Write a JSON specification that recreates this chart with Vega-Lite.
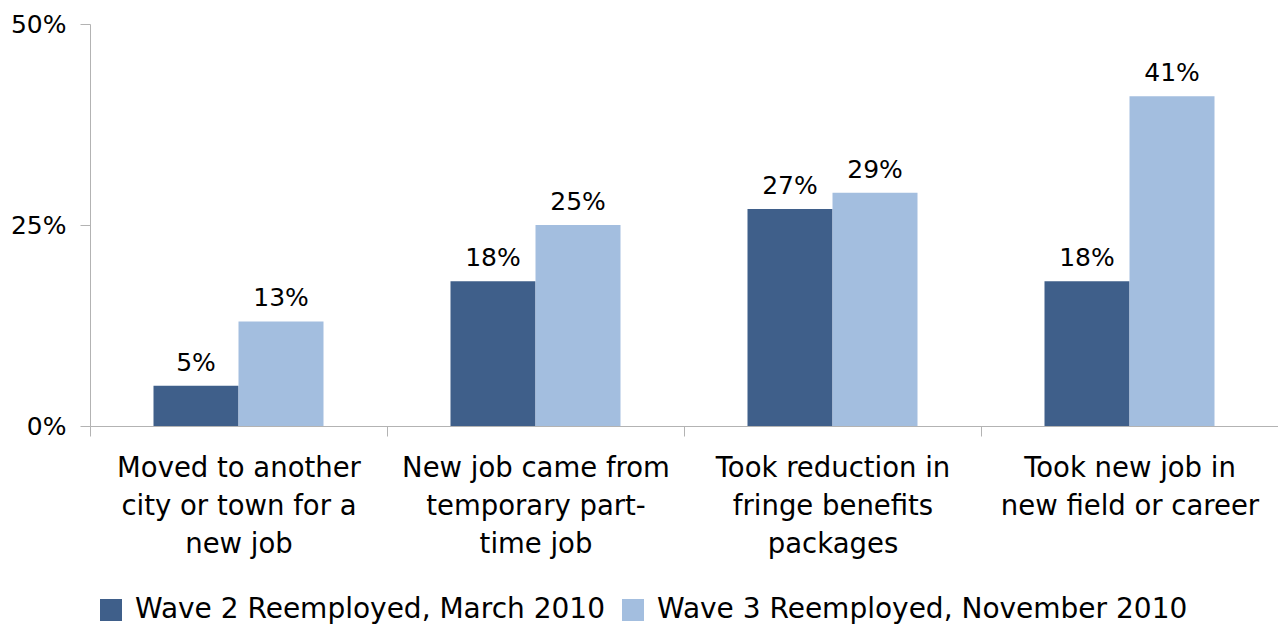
{
  "$schema": "https://vega.github.io/schema/vega-lite/v6.json",
  "width": 1188,
  "height": 402,
  "autosize": {"type": "none"},
  "padding": {"left": 90, "top": 24, "right": 0, "bottom": 201},
  "background": "white",
  "config": {
    "font": "DejaVu Sans",
    "view": {"stroke": null}
  },
  "data": {
    "values": [
      {"cat": "Moved to another|city or town for a|new job", "wave": "Wave 2 Reemployed, March 2010", "value": 0.05},
      {"cat": "Moved to another|city or town for a|new job", "wave": "Wave 3 Reemployed, November 2010", "value": 0.13},
      {"cat": "New job came from|temporary part-|time job", "wave": "Wave 2 Reemployed, March 2010", "value": 0.18},
      {"cat": "New job came from|temporary part-|time job", "wave": "Wave 3 Reemployed, November 2010", "value": 0.25},
      {"cat": "Took reduction in|fringe benefits|packages", "wave": "Wave 2 Reemployed, March 2010", "value": 0.27},
      {"cat": "Took reduction in|fringe benefits|packages", "wave": "Wave 3 Reemployed, November 2010", "value": 0.29},
      {"cat": "Took new job in|new field or career", "wave": "Wave 2 Reemployed, March 2010", "value": 0.18},
      {"cat": "Took new job in|new field or career", "wave": "Wave 3 Reemployed, November 2010", "value": 0.41}
    ]
  },
  "encoding": {
    "x": {
      "field": "cat",
      "type": "nominal",
      "sort": null,
      "scale": {"paddingInner": 0, "paddingOuter": 0},
      "axis": {
        "title": null,
        "labelAngle": 0,
        "labelExpr": "split(datum.label, '|')",
        "labelFontSize": 27.5,
        "labelColor": "#000000",
        "labelLineHeight": 38,
        "labelPadding": 18,
        "labelLimit": 400,
        "labelBaseline": "top",
        "tickBand": "extent",
        "tickSize": 10,
        "tickColor": "#b3b3b3",
        "domainColor": "#b3b3b3",
        "grid": false
      }
    },
    "xOffset": {
      "field": "wave",
      "type": "nominal",
      "sort": null,
      "scale": {"paddingInner": 0, "paddingOuter": 0.747}
    },
    "y": {
      "field": "value",
      "type": "quantitative",
      "scale": {"domain": [0, 0.5]},
      "axis": {
        "title": null,
        "values": [0, 0.25, 0.5],
        "format": ".0%",
        "labelFontSize": 25,
        "labelColor": "#000000",
        "labelPadding": 14,
        "tickSize": 10,
        "tickColor": "#b3b3b3",
        "domainColor": "#b3b3b3",
        "grid": false
      }
    }
  },
  "layer": [
    {
      "mark": {"type": "bar"},
      "encoding": {
        "color": {
          "field": "wave",
          "type": "nominal",
          "sort": null,
          "scale": {"range": ["#3F5F8A", "#A3BEDF"]},
          "legend": {
            "title": null,
            "orient": "none",
            "direction": "horizontal",
            "legendX": 7,
            "legendY": 572,
            "symbolType": "square",
            "symbolSize": 484,
            "symbolStrokeWidth": 0,
            "labelFontSize": 28,
            "labelColor": "#000000",
            "labelOffset": 10,
            "labelLimit": 700,
            "columnPadding": 14
          }
        }
      }
    },
    {
      "mark": {"type": "text", "baseline": "bottom", "dy": -10, "fontSize": 25, "color": "#000000"},
      "encoding": {
        "text": {"field": "value", "type": "quantitative", "format": ".0%"}
      }
    }
  ]
}
